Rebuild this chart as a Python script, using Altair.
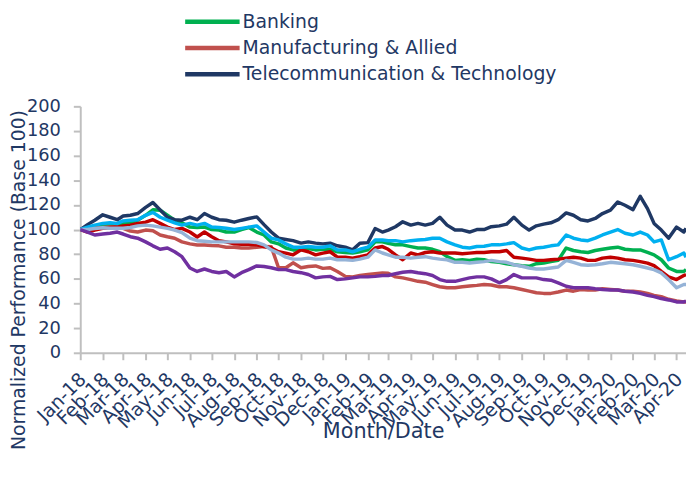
import altair as alt
import pandas as pd

dates = [
    "2018/01/01", "2018/01/11", "2018/01/21", "2018/02/01", "2018/02/11", "2018/02/21",
    "2018/03/01", "2018/03/11", "2018/03/21", "2018/04/01", "2018/04/11", "2018/04/21",
    "2018/05/01", "2018/05/11", "2018/05/21", "2018/06/01", "2018/06/11", "2018/06/21",
    "2018/07/01", "2018/07/11", "2018/07/21", "2018/08/01", "2018/08/11", "2018/08/21",
    "2018/09/01", "2018/09/11", "2018/09/21", "2018/10/01", "2018/10/11", "2018/10/21",
    "2018/11/01", "2018/11/11", "2018/11/21", "2018/12/01", "2018/12/11", "2018/12/21",
    "2019/01/01", "2019/01/11", "2019/01/21", "2019/02/01", "2019/02/11", "2019/02/21",
    "2019/03/01", "2019/03/11", "2019/03/21", "2019/04/01", "2019/04/11", "2019/04/21",
    "2019/05/01", "2019/05/11", "2019/05/21", "2019/06/01", "2019/06/11", "2019/06/21",
    "2019/07/01", "2019/07/11", "2019/07/21", "2019/08/01", "2019/08/11", "2019/08/21",
    "2019/09/01", "2019/09/11", "2019/09/21", "2019/10/01", "2019/10/11", "2019/10/21",
    "2019/11/01", "2019/11/11", "2019/11/21", "2019/12/01", "2019/12/11", "2019/12/21",
    "2020/01/01", "2020/01/11", "2020/01/21", "2020/02/01", "2020/02/11", "2020/02/21",
    "2020/03/01", "2020/03/11", "2020/03/21", "2020/04/01", "2020/04/11", "2020/04/14",
]

banking = [
    100, 101.7, 102.8, 103.6, 104, 103.6, 105, 105.5, 107.6, 111.6, 116, 115.7, 111.6, 107.6, 105.5, 102, 101.7, 102,
    100, 99.6, 98, 98, 100, 101.7, 98, 95.6, 90, 88.4, 85, 83.5, 83.5, 84.5, 83.5, 84, 84, 82,
    81.4, 80.9, 82, 83.5, 90, 90, 88.9, 87.6, 87.6, 86.2, 85, 85, 84, 82, 78, 75,
    75.5, 75, 76, 75.5, 74, 73.4, 72.3, 71.5, 70.7, 70.2, 72.3, 72.8, 74, 75, 85, 83,
    82, 81.4, 83, 84, 85, 85.7, 84, 83.5, 83.5, 81.4, 79.5, 75.5, 68.8, 66, 66, 67.5,
]
manufacturing = [
    100, 100, 101, 101.7, 102, 102, 101, 98.8, 98, 99.6, 99, 95.6, 94.2, 93, 90, 88.4, 87.5, 87.5,
    87, 86.8, 85.7, 85.7, 85, 85, 85.7, 86.2, 86, 69, 69, 73, 69, 70, 70.5, 68.5, 69, 66,
    62, 61.6, 62.7, 63.5, 64.2, 64.8, 64.5, 61.6, 60.8, 59.4, 58, 57.3, 55.4, 53.6, 52.8, 52.8,
    53.6, 54.2, 54.7, 55.4, 55, 53.6, 53.6, 52.8, 51.4, 50, 48.7, 48.2, 48.2, 49.3, 50.9, 50,
    51.4, 51, 51, 52, 51.4, 50.9, 50, 50, 49.3, 48.2, 46.6, 45.6, 43.4, 42, 41.3, 41.3,
]
telecom = [
    100, 104, 107.6, 112, 110, 108, 111, 111.6, 113, 118, 122, 116, 110, 108, 107.6, 110, 108, 113,
    110, 108, 107.6, 106, 107.6, 109, 110.3, 104, 98, 93, 92, 91, 89, 90, 89, 88.4, 89, 86.8,
    85.7, 83.5, 88.9, 89.4, 100.9, 98, 99.6, 102.3, 106.3, 103.6, 105, 103.6, 105, 110, 103.6, 99.6,
    99.6, 98, 100, 100, 102.3, 103, 104.4, 110, 103.6, 99.6, 103, 104.4, 105.5, 108, 113.5, 111.6,
    108, 107, 109, 113, 115.7, 122.4, 119.7, 116.2, 127, 117, 105, 99.6, 93, 102, 98, 101,
]
sector_red = [
    100, 98, 99.6, 101, 101.7, 102, 103, 103.6, 105, 106, 108, 105, 102, 100, 101, 98, 94, 98,
    94.2, 91, 90, 88.5, 88, 88, 87.6, 86.2, 85, 82, 80.9, 79.5, 83.5, 82, 79.5, 80.9, 82, 77.6,
    77.6, 76.8, 78, 79.5, 85, 86.2, 84, 79.5, 75.5, 81, 79.5, 81.4, 82, 80.9, 81, 81,
    80.4, 80.9, 81.4, 81.4, 82, 82, 83, 77.6, 76.8, 76, 75, 75, 75.5, 76, 76.8, 77.6,
    76.8, 75, 75, 76.8, 77.6, 76.8, 75.5, 75, 74, 72.8, 70.7, 66, 61.6, 59.4, 62.7, 63.5,
]
sector_cyan = [
    100, 102, 103.6, 105, 105.5, 105, 107, 107.6, 108, 111.6, 114, 110, 107.6, 105.5, 103.6, 105, 103.6, 105,
    102, 101.7, 101, 100, 101, 102, 103, 98, 93, 91.6, 88.4, 85.7, 85.7, 86.2, 85.7, 85.7, 86.8, 83.5,
    83.5, 82, 84, 85.7, 91.6, 91.6, 91, 91, 90, 91, 91.6, 92, 93, 93, 90, 87.6,
    85.7, 85, 86.2, 86.5, 87.6, 87.6, 88.4, 89.4, 85, 83.5, 85, 85.7, 86.8, 87.6, 95.6, 93,
    91.6, 91, 93, 95.6, 98, 100, 97, 95.6, 98, 95.6, 90, 91.6, 75.5, 78, 81, 77.6,
]
sector_steel = [
    100, 100, 100.8, 101.5, 101, 101, 101, 101.7, 103, 103.6, 103, 102, 101, 99.6, 97.5, 93, 91, 90.5,
    90, 90, 90, 90, 90, 90, 89.5, 87.6, 83.5, 80.9, 77.6, 76, 76, 76.8, 76, 76, 76.8, 75.5,
    75.5, 75, 76, 77.6, 83.5, 81, 79.5, 77.6, 77.6, 76.8, 77.6, 78, 76.8, 76, 75.5, 73.4,
    73.4, 72.8, 73.4, 74, 75, 74, 73.4, 71.5, 70.2, 68.8, 68, 68, 68.8, 69.6, 75, 73.4,
    71.5, 71, 71.5, 72.3, 73.4, 72.8, 72.3, 71.5, 70.2, 68.8, 67.5, 64.8, 59.4, 52.8, 55.4, 55.4,
]
sector_purple = [
    100, 98, 95.6, 96.4, 97, 98, 96.4, 94.2, 93, 90, 86.8, 84, 85, 82, 78, 68.8, 66, 68,
    66, 65, 66, 61.6, 65, 67.5, 70.5, 70, 69, 67.5, 67.5, 66, 65, 63.5, 60.8, 61.6, 62, 59.4,
    60, 60.8, 61.6, 61.6, 62, 62.7, 62.7, 64.2, 65.3, 66, 65, 64.2, 62.7, 59.4, 58, 58,
    59.4, 60.8, 61.6, 61.6, 60, 56.8, 59.4, 63.5, 60.8, 60.8, 60.8, 59.4, 58.9, 56.8, 54, 52.8,
    52.8, 52.8, 52, 51.4, 50.9, 50.9, 50, 49.3, 48.2, 46.6, 45.6, 44, 42.9, 41.3, 41.3, 42,
]

series_names = [
    "Banking",
    "Manufacturing & Allied",
    "Telecommunication & Technology",
    "Sector 4",
    "Sector 5",
    "Sector 6",
    "Sector 7",
]
series_values = [banking, manufacturing, telecom, sector_red, sector_cyan, sector_steel, sector_purple]
series_colors = ["#00B050", "#C0504D", "#1F3864", "#C00000", "#00B0F0", "#95B3D7", "#7030A0"]
legend_names = ["Banking", "Manufacturing & Allied", "Telecommunication & Technology"]

tick_months = [
    "2018/01/01", "2018/02/01", "2018/03/01", "2018/04/01", "2018/05/01", "2018/06/01",
    "2018/07/01", "2018/08/01", "2018/09/01", "2018/10/01", "2018/11/01", "2018/12/01",
    "2019/01/01", "2019/02/01", "2019/03/01", "2019/04/01", "2019/05/01", "2019/06/01",
    "2019/07/01", "2019/08/01", "2019/09/01", "2019/10/01", "2019/11/01", "2019/12/01",
    "2020/01/01", "2020/02/01", "2020/03/01", "2020/04/01",
]
y_ticks = [0, 20, 40, 60, 80, 100, 120, 140, 160, 180, 200]


def to_dt(s):
    y, m, d = (int(p) for p in s.split("/"))
    return alt.DateTime(year=y, month=m, date=d)


rows = []
for name, vals in zip(series_names, series_values):
    for d, v in zip(dates, vals):
        rows.append({"date": d, "series": name, "value": v})
df = pd.DataFrame(rows)

FONT = "DejaVu Sans"
TXT = "#1F3864"
AX = "#BFBFBF"

chart = (
    alt.Chart(df)
    .mark_line(strokeWidth=3.5, clip=True, strokeJoin="round")
    .encode(
        x=alt.X(
            "date:T",
            scale=alt.Scale(domain=[to_dt("2018/01/01"), to_dt("2020/04/14")]),
            axis=alt.Axis(
                values=[to_dt(t) for t in tick_months],
                format="%b-%y",
                labelAngle=-45,
                labelAlign="right",
                labelBaseline="top",
                labelOverlap=False,
                labelFont=FONT,
                labelFontSize=19,
                labelColor=TXT,
                labelPadding=10,
                labelOffset=-4,
                grid=False,
                domainColor=AX,
                domainWidth=2,
                tickColor=AX,
                tickWidth=2,
                tickSize=7,
                title="Month/Date",
                titleFont=FONT,
                titleFontSize=21,
                titleFontWeight="normal",
                titleColor=TXT,
                titleBaseline="middle",
                titleY=80,
            ),
        ),
        y=alt.Y(
            "value:Q",
            scale=alt.Scale(domain=[0, 200]),
            axis=alt.Axis(
                values=y_ticks,
                grid=False,
                domainColor=AX,
                domainWidth=2,
                tickColor=AX,
                tickWidth=2,
                tickSize=7,
                labelFont=FONT,
                labelFontSize=18,
                labelColor=TXT,
                labelPadding=13,
                title="Normalized Performance (Base 100)",
                titleFont=FONT,
                titleFontSize=19,
                titleFontWeight="normal",
                titleColor=TXT,
                titleAlign="center",
                titleBaseline="middle",
                titleAngle=270,
                titleX=-62,
                titleY=175,
            ),
        ),
        color=alt.Color(
            "series:N",
            scale=alt.Scale(domain=series_names, range=series_colors),
            legend=alt.Legend(
                values=legend_names,
                title=None,
                orient="none",
                legendX=122,
                legendY=-97,
                padding=0,
                symbolType="M-3,0H3",
                symbolSize=336,
                symbolStrokeWidth=4.5,
                labelFont=FONT,
                labelFontSize=19,
                labelColor=TXT,
                labelOffset=19,
                rowPadding=4.5,
                labelLimit=0,
            ),
        ),
    )
    .properties(
        width=612,
        height=249,
        padding={"left": 73, "top": 97, "right": 0, "bottom": 110},
        autosize=alt.AutoSizeParams(type="none"),
    )
    .configure_view(stroke=None)
)

chart.save("out.html", embed_options={"renderer": "svg", "actions": False})
